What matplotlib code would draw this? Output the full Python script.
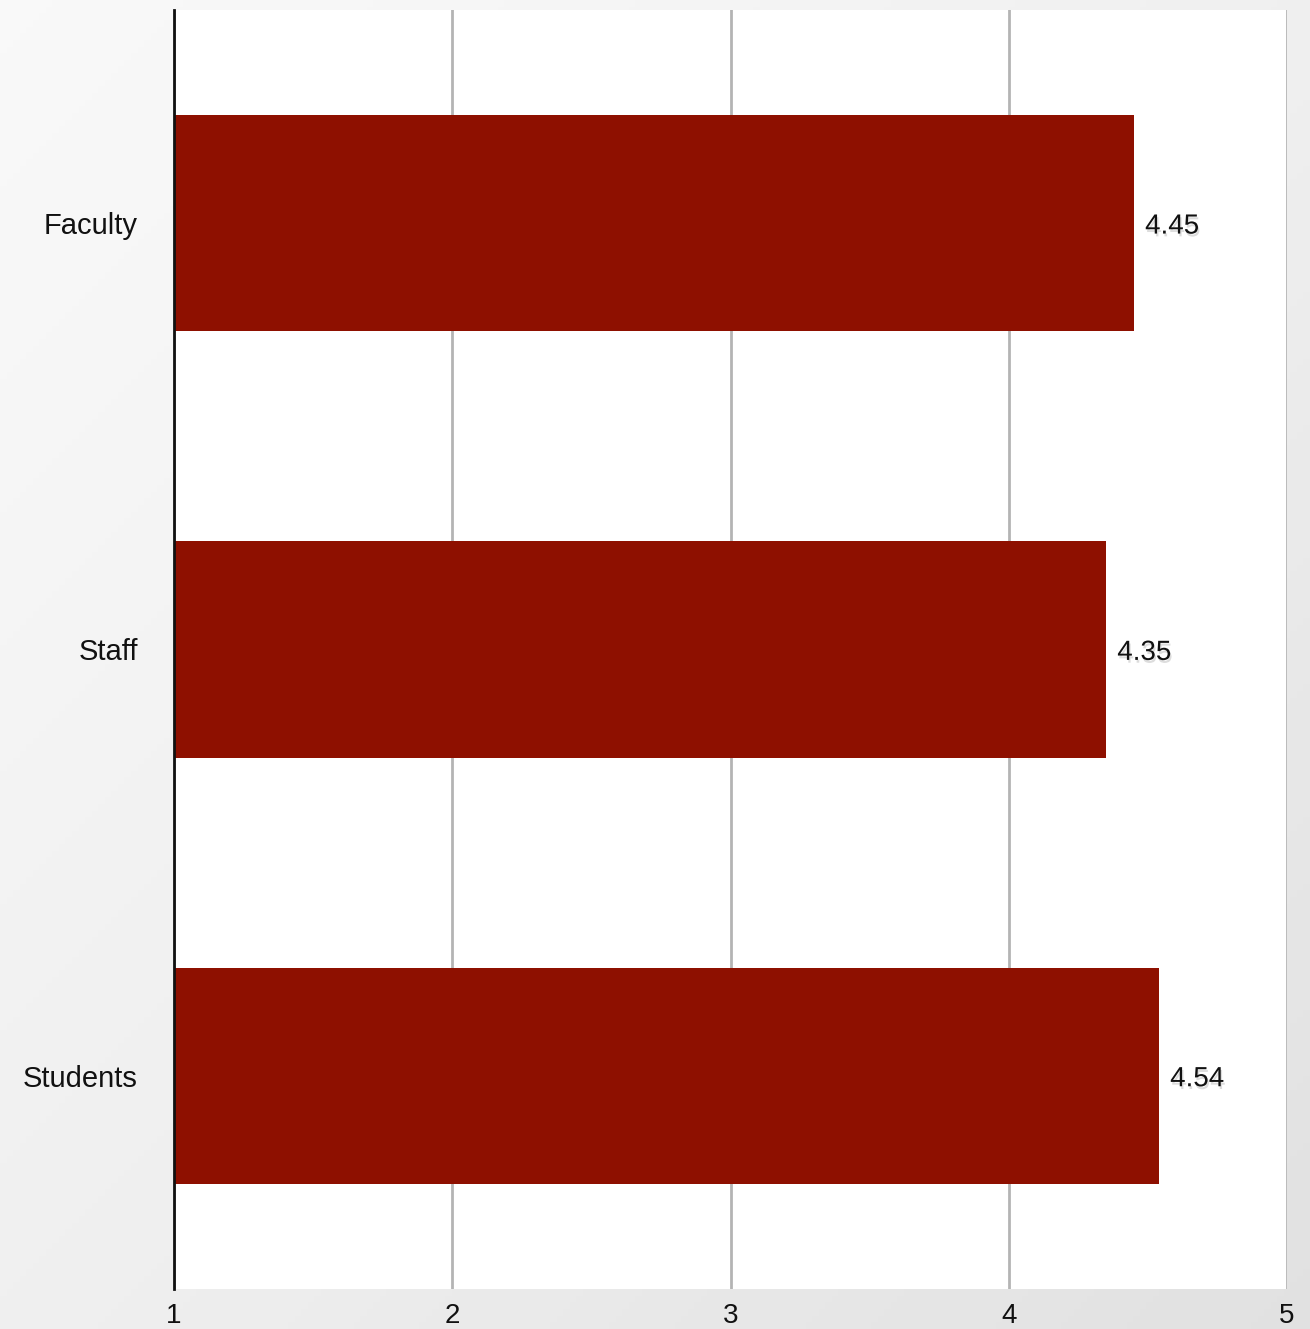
import numpy as np
import matplotlib
matplotlib.use('Agg')
import matplotlib.pyplot as plt
import matplotlib.patheffects as pe

plt.rcParams['font.family'] = ['Liberation Sans', 'DejaVu Sans']

groups = ['Faculty', 'Staff', 'Students']
scores = [4.45, 4.35, 4.54]
x_ticks = [1, 2, 3, 4, 5]

bar_color = '#8e1000'

fig = plt.figure(figsize=(13.1, 13.29), dpi=100)

# light diagonal gradient behind everything
bg = fig.add_axes([0, 0, 1, 1], zorder=-10)
xx, yy = np.meshgrid(np.linspace(0, 1, 200), np.linspace(0, 1, 200))
grad = (xx + yy) / 2
bg.imshow(grad, cmap='Greys', vmin=-0.3, vmax=6.0, aspect='auto',
          extent=[0, 1, 0, 1], origin='upper')
bg.axis('off')

ax = fig.add_axes([174 / 1310, 1 - 1289 / 1329, 1113 / 1310, 1279 / 1329])
ax.set_facecolor('white')

ypos = np.arange(len(groups))
ax.barh(ypos, [s - 1 for s in scores], left=1, height=0.507,
        color=bar_color, zorder=3)

for y, s in zip(ypos, scores):
    ax.text(s + 0.04, y + 0.008, f'{s:.2f}', va='center', ha='left', fontsize=20,
            color='#111111', zorder=4,
            path_effects=[pe.withSimplePatchShadow(offset=(1, -2), shadow_rgbFace='#aaaaaa', alpha=0.4)])

ax.set_xlim(1, 5)
ax.set_ylim(2.5, -0.5)
ax.set_xticks(x_ticks)
ax.set_xticklabels([str(t) for t in x_ticks], fontsize=20)
ax.set_yticks(ypos)
ax.set_yticklabels(groups, fontsize=21)
ax.tick_params(axis='both', length=0, colors='#111111')
ax.tick_params(axis='x', pad=10)
ax.tick_params(axis='y', pad=26)

ax.grid(axis='x', color='#b4b4b4', linewidth=2, zorder=0)
ax.set_axisbelow(True)
for side in ['top', 'right', 'bottom']:
    ax.spines[side].set_visible(False)
ax.spines['left'].set_color('#111111')
ax.spines['left'].set_linewidth(2)
ax.spines['left'].set_zorder(5)

fig.savefig('out.png', dpi=100)
